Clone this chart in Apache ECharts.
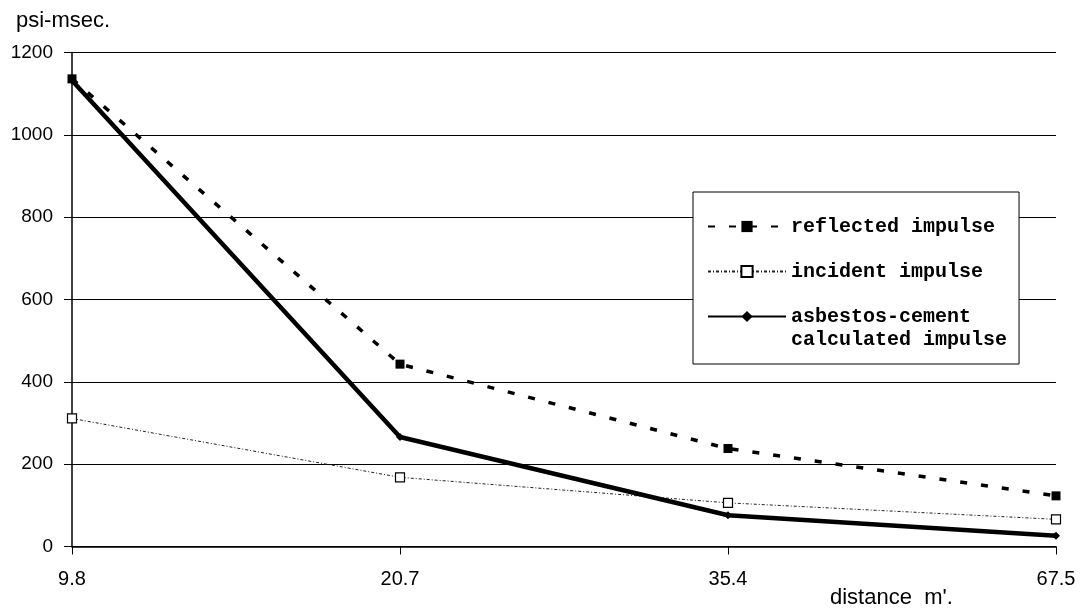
<!DOCTYPE html>
<html>
<head>
<meta charset="utf-8">
<script src="https://cdn.jsdelivr.net/npm/echarts@6/dist/echarts.min.js"></script>
<style>
html,body{margin:0;padding:0;background:#fff;}
#c{width:1080px;height:609px;}
</style>
</head>
<body>
<div id="c"></div>
<script>
const categories = ['9.8', '20.7', '35.4', '67.5'];
const reflected = [1136, 443, 238, 123];
const incident = [311, 168, 106, 66];
const asbestos = [1132, 266, 76, 26];
const yMin = 0, yMax = 1200, yInterval = 200;
const seriesNames = ['reflected impulse', 'incident impulse', 'asbestos-cement calculated impulse'];

const chart = echarts.init(document.getElementById('c'), null, {renderer: 'canvas'});
const font = 'Liberation Sans, Arial, sans-serif';
const legendFont = {fontFamily: 'Liberation Mono, monospace', fontSize: 20, fontWeight: 'bold'};
chart.setOption({
  animation: false,
  backgroundColor: '#fff',
  title: [
    {text: 'psi-msec.', left: 11, top: 5, textStyle: {fontFamily: font, fontSize: 22, fontWeight: 'normal', color: '#000'}},
    {text: "distance  m'.", left: 825, top: 582, textStyle: {fontFamily: font, fontSize: 22, fontWeight: 'normal', color: '#000'}}
  ],
  grid: {left: 72, right: 24, top: 52.5, bottom: 62.5, containLabel: false},
  legend: {
    orient: 'vertical',
    left: 693, top: 192,
    backgroundColor: '#fff',
    borderColor: '#000', borderWidth: 1,
    padding: [23, 24, 36, 14],
    itemGap: 22,
    itemWidth: 78, itemHeight: 14,
    textStyle: Object.assign({color: '#000', lineHeight: 23}, legendFont),
    formatter: function (n) { return n === seriesNames[2] ? 'asbestos-cement' : n; },
    data: seriesNames
  },
  graphic: [{
    type: 'text', left: 791, top: 330, z: 100,
    style: {text: 'calculated impulse', fill: '#000', font: 'bold 20px "Liberation Mono", monospace'}
  }],
  xAxis: {
    type: 'category',
    data: categories,
    boundaryGap: false,
    axisLine: {lineStyle: {color: '#000', width: 1.5}},
    axisTick: {show: true, length: 8, interval: 0, lineStyle: {color: '#000', width: 1}},
    axisLabel: {margin: 23, fontFamily: font, fontSize: 20, color: '#000', interval: 0},
    splitLine: {show: false}
  },
  yAxis: {
    type: 'value',
    min: yMin, max: yMax, interval: yInterval,
    axisLine: {show: true, lineStyle: {color: '#000', width: 1.5}},
    axisTick: {show: true, length: 8, lineStyle: {color: '#000', width: 1}},
    axisLabel: {margin: 19, fontFamily: font, fontSize: 19, color: '#000', formatter: function (v) { return String(v); }},
    splitLine: {show: true, lineStyle: {color: '#000', width: 1}}
  },
  series: [
    {
      name: seriesNames[0], type: 'line', data: reflected,
      symbol: 'rect', symbolSize: 9,
      itemStyle: {color: '#000'},
      lineStyle: {color: '#000', width: 3.5, type: [7, 14]},
      z: 3
    },
    {
      name: seriesNames[1], type: 'line', data: incident,
      symbol: 'rect', symbolSize: 9,
      itemStyle: {color: '#fff', borderColor: '#000', borderWidth: 1.2},
      lineStyle: {color: '#222', width: 1, type: [3, 2, 1, 2]},
      z: 4
    },
    {
      name: seriesNames[2], type: 'line', data: asbestos,
      symbol: 'diamond', symbolSize: 8,
      itemStyle: {color: '#000'},
      lineStyle: {color: '#000', width: 4.5},
      z: 5
    }
  ]
});
</script>
</body>
</html>
